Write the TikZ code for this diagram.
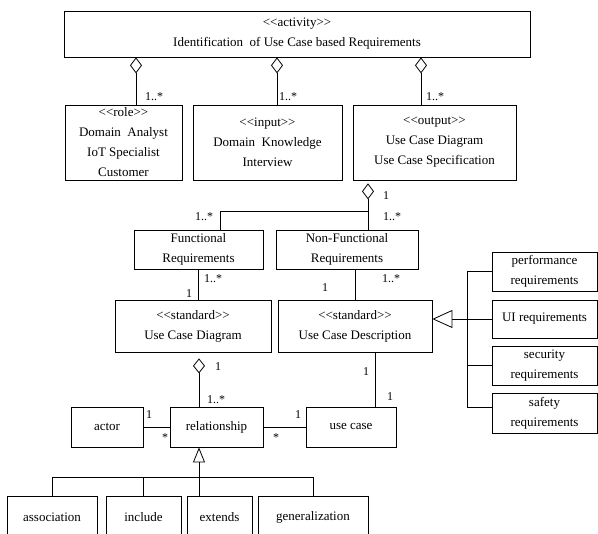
\documentclass[tikz,border=0pt]{standalone}
\usepackage{fontspec}
\setmainfont{Liberation Serif}[Ligatures=TeXOff]
\usetikzlibrary{arrows.meta,calc}
\begin{document}
\begin{tikzpicture}[x=1pt,y=-1pt,
  box/.style={draw, line width=0.8pt, inner sep=0pt, align=center,
    font=\fontsize{13}{20}\selectfont},
  mult/.style={font=\fontsize{12}{12}\selectfont, inner sep=0pt, anchor=west},
  conn/.style={line width=0.8pt},
  agg/.style={conn, {Diamond[open, length=16pt, width=12pt]}-},
  aggs/.style={conn, {Diamond[open, length=15pt, width=12pt]}-},
  gen/.style={conn, -{Triangle[open, length=20pt, width=18pt]}},
  gens/.style={conn, -{Triangle[open, length=15pt, width=12pt]}}]
\useasboundingbox (0,0) rectangle (598,534);
\clip (0,0) rectangle (598,534);

% boxes
\node[box, minimum width=466, minimum height=46] (top) at (297,34)
  {<<activity>>\\Identification\ \ of Use Case based Requirements};
\node[box, minimum width=117, minimum height=75] (role) at (123.5,142.5)
  {<<role>>\\Domain\ \ Analyst\\IoT Specialist\\Customer};
\node[box, minimum width=149, minimum height=75] (input) at (267.5,142.5)
  {<<input>>\\Domain\ \ Knowledge\\Interview};
\node[box, minimum width=163, minimum height=75] (output) at (434.5,142.5)
  {<<output>>\\Use Case Diagram\\Use Case Specification};
\node[box, minimum width=129, minimum height=39] (func) at (198.5,249.5)
  {Functional\\Requirements};
\node[box, minimum width=142, minimum height=39] (nonfunc) at (347,249.5)
  {Non-Functional\\Requirements};
\node[box, minimum width=156, minimum height=52] (ucdiag) at (193,326)
  {<<standard>>\\Use Case Diagram};
\node[box, minimum width=154, minimum height=52] (ucdesc) at (355,326)
  {<<standard>>\\Use Case Description};
\node[box, minimum width=105, minimum height=39] (perf) at (544.5,271.5)
  {performance\\requirements};
\node[box, minimum width=105, minimum height=38] (ui) at (544.5,319)
  {UI requirements};
\node[box, minimum width=105, minimum height=39] (sec) at (544.5,365.5)
  {security\\requirements};
\node[box, minimum width=105, minimum height=40] (safe) at (544.5,413)
  {safety\\requirements};
\node[box, minimum width=72, minimum height=40] (actor) at (107,427) {actor};
\node[box, minimum width=93, minimum height=40] (rel) at (216.5,427) {relationship};
\node[box, minimum width=90, minimum height=40] (uc) at (351,427) {use case};
\node[box, minimum width=90, minimum height=42] (assoc) at (52,517) {association};
\node[box, minimum width=75, minimum height=42] (incl) at (143.5,517) {include};
\node[box, minimum width=65, minimum height=42] (ext) at (219.5,517) {extends};
\node[box, minimum width=110, minimum height=42] (gnz) at (313,517) {generalization};

% top aggregations
\coordinate (r1) at ([xshift=12.5]role.north);
\coordinate (i1) at ([xshift=9.5]input.north);
\coordinate (o1) at ([xshift=-13.5]output.north);
\draw[agg] (top.south -| r1) -- (r1);
\draw[agg] (top.south -| i1) -- (i1);
\draw[agg] (top.south -| o1) -- (o1);
\node[mult] at (145,97) {1..*};
\node[mult] at (279,97) {1..*};
\node[mult] at (426,97) {1..*};

% output -> functional / non-functional
\coordinate (nf1) at ([xshift=21]nonfunc.north);
\coordinate (f1) at ([xshift=21.5]func.north);
\draw[agg, shorten <=3pt] (output.south -| nf1) -- (nf1);
\draw[conn] (f1) |- ($(output.south -| nf1)!0.64!(nf1)$);
\node[mult] at (383,196) {1};
\node[mult] at (383,217) {1..*};
\node[mult] at (195,217) {1..*};

% functional -> use case diagram
\draw[conn] (func.south) -- (func.south |- ucdiag.north);
\node[mult] at (204,279) {1..*};
\node[mult] at (186,294) {1};

% non-functional -> use case description
\draw[conn] (ucdesc.north |- nonfunc.south) -- (ucdesc.north);
\node[mult] at (322,288) {1};
\node[mult] at (382,279) {1..*};

% generalization of requirement kinds
\draw[gen] (ui.west) -- (ui.west -| ucdesc.east);
\draw[conn] (perf.west) -- ++(-24,0) |- ([yshift=6]safe.west);
\draw[conn] (sec.west) -- ++(-24,0);

% use case diagram -> relationship
\coordinate (r2) at ([xshift=-17.5]rel.north);
\draw[aggs, shorten <=6pt] (ucdiag.south -| r2) -- (r2);
\node[mult] at (215,367) {1};
\node[mult] at (207,400) {1..*};

% actor / relationship / use case
\draw[conn] (actor.east) -- (rel.west);
\draw[conn] (rel.east) -- (uc.west);
\node[mult] at (146,415) {1};
\node[mult] at (162,438) {*};
\node[mult] at (295,415) {1};
\node[mult] at (273,438) {*};

% use case description -> use case
\coordinate (u1) at ([xshift=24]uc.north);
\draw[conn] (ucdesc.south -| u1) -- (u1);
\node[mult] at (363,372) {1};
\node[mult] at (387,397) {1};

% relationship kinds
\coordinate (e1) at ([xshift=-20.5]ext.north);
\draw[gens] (e1) -- (rel.south -| e1);
\draw[conn] (assoc.north) -- ++(0,-18) -| (gnz.north);
\draw[conn] (incl.north) -- ++(0,-18);
\end{tikzpicture}
\end{document}
